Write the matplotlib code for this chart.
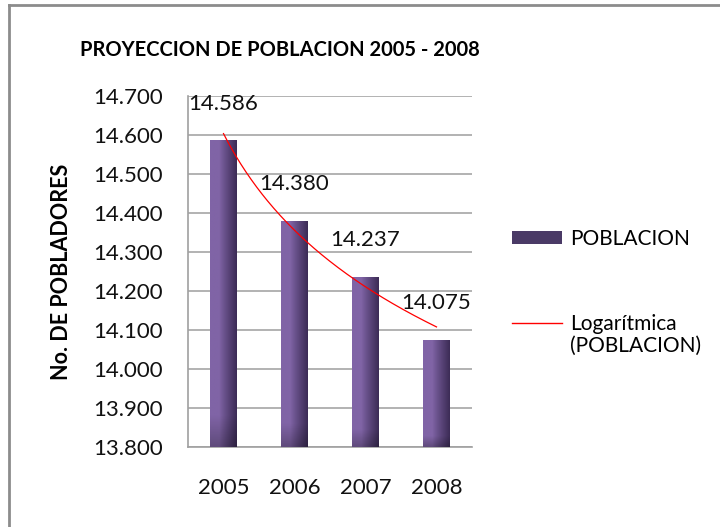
import numpy as np
import matplotlib
matplotlib.use("Agg")
import matplotlib.pyplot as plt
from matplotlib.lines import Line2D
from matplotlib.patches import Patch

plt.rcParams["font.family"] = ["Lato", "DejaVu Sans"]

years = ["2005", "2006", "2007", "2008"]
poblacion = [14586, 14380, 14237, 14075]
yticks = [13800, 13900, 14000, 14100, 14200, 14300, 14400, 14500, 14600, 14700]


def fmt(v):
    return f"{v:,.0f}".replace(",", ".")


fig = plt.figure(figsize=(7.2, 5.27), dpi=100)
ax = fig.add_axes([188 / 720, 80 / 527, 284 / 720, 351 / 527])

x = np.arange(len(years))
bars = ax.bar(x, poblacion, width=0.38, color="#5a4680", zorder=2)

# gradient fill (light left, dark right, darker foot) clipped to each bar
cols = np.linspace(0, 1, 60)
light = np.array([128, 100, 166]) / 255.0
dark = np.array([60, 44, 86]) / 255.0
t = np.clip((cols - 0.35) / 0.65, 0, 1) ** 0.9
row = light[None, :] * (1 - t[:, None]) + dark[None, :] * t[:, None]
rows = np.linspace(0, 1, 120)
shade = 1 - 0.25 * np.clip((0.1 - rows) / 0.1, 0, 1)
grad = row[None, :, :] * shade[::-1][:, None, None]
for b in bars:
    x0 = b.get_x()
    im = ax.imshow(grad, extent=[x0, x0 + b.get_width(), 13800, b.get_height()],
                   aspect="auto", origin="upper", zorder=3)
    im.set_clip_path(b)

# logarithmic trendline, fitted to the bar values
lx = np.log(x + 1)
b_coef, a_coef = np.polyfit(lx, poblacion, 1)
xt = np.linspace(0, 3, 200)
ax.plot(xt, a_coef + b_coef * np.log(xt + 1), color="#ff0000", lw=0.9, zorder=4)

for xi, v in zip(x, poblacion):
    ax.annotate(fmt(v), (xi, v), xytext=(0, 19), textcoords="offset points",
                ha="center", va="bottom", fontsize=16, color="#111111", zorder=5)

ax.set_xlim(-0.5, 3.5)
ax.set_ylim(13800, 14700)
ax.set_yticks(yticks)
ax.set_yticklabels([fmt(v) for v in yticks])
ax.set_xticks(x)
ax.set_xticklabels(years)
ax.tick_params(axis="y", length=0, pad=18, labelsize=16, colors="#111111")
ax.tick_params(axis="x", length=0, pad=22, labelsize=16, colors="#111111")
ax.yaxis.grid(True, color="#a6a6a6", lw=1.2, zorder=0)
ax.set_axisbelow(True)
for s in ["top", "right"]:
    ax.spines[s].set_visible(False)
for s in ["left", "bottom"]:
    ax.spines[s].set_color("#a0a0a0")
    ax.spines[s].set_linewidth(1.2)

ax.set_ylabel("No. DE POBLADORES", fontsize=15.5, fontweight="bold")
ax.yaxis.set_label_coords(-0.41, 0.5)
fig.text(280 / 720, 1 - 50 / 527, "PROYECCION DE POBLACION 2005 - 2008",
         ha="center", va="center", fontsize=14.5, fontweight="bold")

handles = [Patch(facecolor="#4a3a66", edgecolor="none"),
           Line2D([], [], color="#ff0000", lw=1)]
leg = ax.legend(handles, ["POBLACION", "Logarítmica"],
                loc="upper left", bbox_to_anchor=(512 / 720, 1 - 229 / 527),
                bbox_transform=fig.transFigure, frameon=False, fontsize=15,
                borderpad=0, borderaxespad=0,
                handlelength=2.4, handletextpad=0.4, labelspacing=3.1, handleheight=0.6)

# second line of the trendline entry, placed under its label
fig.canvas.draw()
bb = leg.get_texts()[1].get_window_extent().transformed(fig.transFigure.inverted())
fig.text(bb.x0, bb.y0 - 2 / 527, "(POBLACION)", ha="left", va="top", fontsize=15)

# outer chart border
fig.add_artist(Line2D([9 / 720, 9 / 720], [0, 1 - 5 / 527], color="#8c8c8c", lw=2,
                      transform=fig.transFigure))
fig.add_artist(Line2D([9 / 720, 1], [1 - 5 / 527, 1 - 5 / 527], color="#8c8c8c", lw=2,
                      transform=fig.transFigure))

fig.savefig("out.png", dpi=100)
plt.close(fig)
